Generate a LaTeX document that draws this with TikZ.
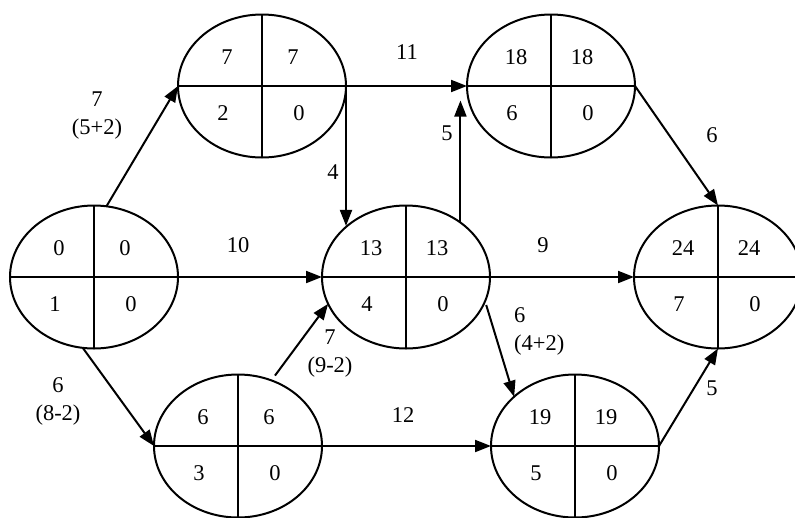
\documentclass[tikz,border=0pt]{standalone}
\usepackage{fontspec}
\setmainfont{Liberation Serif}
\usetikzlibrary{arrows.meta,shapes.geometric,calc}

\begin{document}
\begin{tikzpicture}[
  x=1pt, y=-1pt,
  event/.style={draw, ellipse, line width=2pt, minimum width=168pt,
                minimum height=143pt, inner sep=0pt, outer sep=0pt},
  num/.style={inner sep=0pt, font=\fontsize{22.5}{28}\selectfont},
  lab/.style={inner sep=0pt, align=center, font=\fontsize{22.5}{28}\selectfont},
  arrow/.style={-{Triangle[length=16pt,width=12pt]}, line width=2pt}
]
\useasboundingbox (0,0) rectangle (795,517);
% events: name/x/y/early/late/number/slack
\foreach \n/\x/\y/\a/\b/\c/\d in {ev1/94/277/0/0/1/0, ev2/262/86/7/7/2/0,
    ev3/551/86/18/18/6/0, ev4/406/277/13/13/4/0, ev5/718/277/24/24/7/0,
    ev6/238/446/6/6/3/0, ev7/575/446/19/19/5/0}{
  \node[event] (\n) at (\x,\y) {};
  \draw[line width=2pt] (\n.north) -- (\n.south) (\n.west) -- (\n.east);
  \node[num] (\n-tl) at ($(\n.center)+(-35,-29)$) {\a};
  \node[num] (\n-tr) at ($(\n.center)+(31,-29)$) {\b};
  \node[num] (\n-bl) at ($(\n.center)+(-39,27)$) {\c};
  \node[num] (\n-br) at ($(\n.center)+(37,27)$) {\d};
}
% durations
\node[lab] (w12) at (97,116) {7\\(5+2)};
\node[lab] (w23) at (407,52) {11};
\node[lab] (w24) at (333,172) {4};
\node[lab] (w43) at (447,133) {5};
\node[lab] (w35) at (712,135) {6};
\node[lab] (w14) at (238,245) {10};
\node[lab] (w45) at (543,245) {9};
\node[lab] (w16) at (58,401) {6\\(8-2)};
\node[lab] (w64) at (330,354) {7\\(9-2)};
\node[lab] (w67) at (403,415) {12};
\node[lab, align=left, anchor=west] (w47) at (514,331) {6\\(4+2)};
\node[lab] (w75) at (712,388) {5};
% activities
\draw[arrow] (ev1.80) -- (ev2.west);
\draw[arrow] (ev2.east) -- (ev3.west);
\draw[arrow] (ev2.east) -- (ev2.east |- ev4.139);
\draw[arrow] (ev4.45) -- (ev4.45 |- ev3.190);
\draw[arrow] (ev3.east) -- (ev5.north);
\draw[arrow] (ev1.east) -- (ev4.west);
\draw[arrow] (ev4.east) -- (ev5.west);
\draw[arrow] (ev1.261) -- (ev6.west);
\draw[arrow, shorten <=6pt] (ev6.63) -- (ev4.199);
\draw[arrow] (ev6.east) -- (ev7.west);
\draw[arrow, shorten <=4pt] (ev4.343) -- (ev7.141);
\draw[arrow] (ev7.east) -- (ev5.south);
\end{tikzpicture}
\end{document}
